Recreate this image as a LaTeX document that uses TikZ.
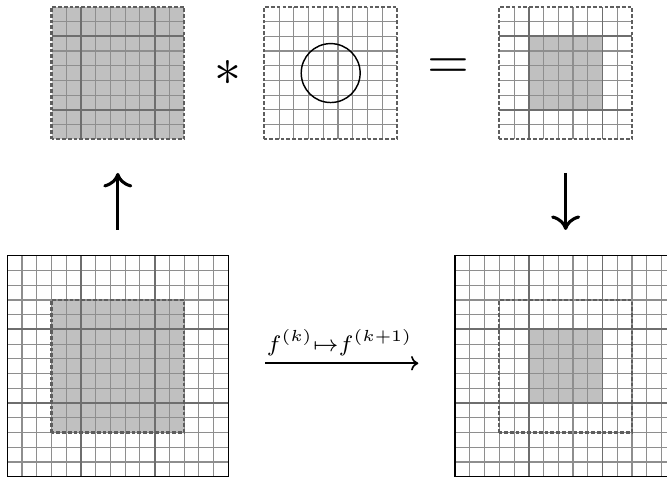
\documentclass[tikz,border=0pt]{standalone}
\usepackage{amsmath}
\usetikzlibrary{arrows.meta}
\definecolor{cellfill}{HTML}{C0C0C0}
\definecolor{thinline}{HTML}{8E8E8E}
\definecolor{blockline}{HTML}{6E6E6E}
\definecolor{dashline}{HTML}{5E5E5E}

\begin{document}
\begin{tikzpicture}[y=0.25cm, x=0.25cm,
    fine/.style={thinline, line width=0.55pt},
    coarse/.style={blockline, line width=0.9pt},
    window/.style={dashline, line width=1pt, dash pattern=on 1.8pt off 1pt},
    frame/.style={black, line width=0.65pt},
    bigarrow/.style={line width=1.5pt, -{Computer Modern Rightarrow[width=14pt, length=7pt]}},
    thinarrow/.style={line width=0.8pt, -{Computer Modern Rightarrow[width=7pt, length=3.5pt]}},
    op/.style={inner sep=0pt, scale=2.6}]
                \useasboundingbox (-0.496,-0.156) rectangle (44.78,32.36);
                % bottom left
                \fill[cellfill] (3,3) rectangle (12,12);
                \foreach \i in {0,...,15} {
                    \draw[fine] (\i,0) -- (\i,15);
                    \draw[fine] (0,\i) -- (15,\i);
                }
                \foreach \k in {5,10} {
                    \draw[coarse] (\k,0) -- (\k,15);
                    \draw[coarse] (0,\k) -- (15,\k);
                }
                \draw[window] (3,3) rectangle (12,12);
                \draw[frame] (0,0) rectangle (15,15);
                % bottom right
                \begin{scope}[shift={(30.4,0)}]
                    \fill[cellfill] (5,5) rectangle (10,10);
                    \foreach \i in {0,...,15} {
                        \draw[fine] (\i,0) -- (\i,15);
                        \draw[fine] (0,\i) -- (15,\i);
                    }
                    \foreach \k in {5,10} {
                        \draw[coarse] (\k,0) -- (\k,15);
                        \draw[coarse] (0,\k) -- (15,\k);
                    }
                    \draw[window] (3,3) rectangle (12,12);
                    \draw[frame] (0,0) rectangle (15,15);
                \end{scope}
                % top left
                \begin{scope}[shift={(3,22.9)}]
                    \fill[cellfill] (0,0) rectangle (9,9);
                    \foreach \i in {1,...,8} {
                        \draw[fine] (\i,0) -- (\i,9);
                        \draw[fine] (0,\i) -- (9,\i);
                    }
                    \foreach \k in {2,7} {
                        \draw[coarse] (\k,0) -- (\k,9);
                        \draw[coarse] (0,\k) -- (9,\k);
                    }
                    \draw[window] (0,0) rectangle (9,9);
                \end{scope}
                % top middle
                \begin{scope}[shift={(17.45,22.9)}]
                    \foreach \i in {1,...,8} {
                        \draw[fine] (\i,0) -- (\i,9);
                        \draw[fine] (0,\i) -- (9,\i);
                    }
                    \draw[window] (0,0) rectangle (9,9);
                    \draw[black, line width=0.7pt] (4.5,4.5) circle (2);
                \end{scope}
                % top right
                \begin{scope}[shift={(33.4,22.9)}]
                    \fill[cellfill] (2,2) rectangle (7,7);
                    \foreach \i in {1,...,8} {
                        \draw[fine] (\i,0) -- (\i,9);
                        \draw[fine] (0,\i) -- (9,\i);
                    }
                    \foreach \k in {2,7} {
                        \draw[coarse] (\k,0) -- (\k,9);
                        \draw[coarse] (0,\k) -- (9,\k);
                    }
                    \draw[window] (0,0) rectangle (9,9);
                \end{scope}
                \node[op] (ast) at (14.98,27.44) {$\ast$};
                \node[op] (eq) at (29.92,27.71) {$=$};
                \coordinate (upS) at (7.5,16.75);
                \coordinate (upE) at (7.5,20.62);
                \coordinate (dnS) at (37.9,20.62);
                \coordinate (dnE) at (37.9,16.75);
                \coordinate (mapS) at (17.5,7.7);
                \coordinate (mapE) at (27.9,7.7);
                \draw[bigarrow] (upS) -- (upE);
                \draw[bigarrow] (dnS) -- (dnE);
                \draw[thinarrow] (mapS) -- (mapE);
                \node[inner sep=0pt, scale=1.55] (lbl) at (22.55,9.1) {$\scriptstyle f^{(k)}\mapsto f^{(k+1)}$};
            \end{tikzpicture}
\end{document}
